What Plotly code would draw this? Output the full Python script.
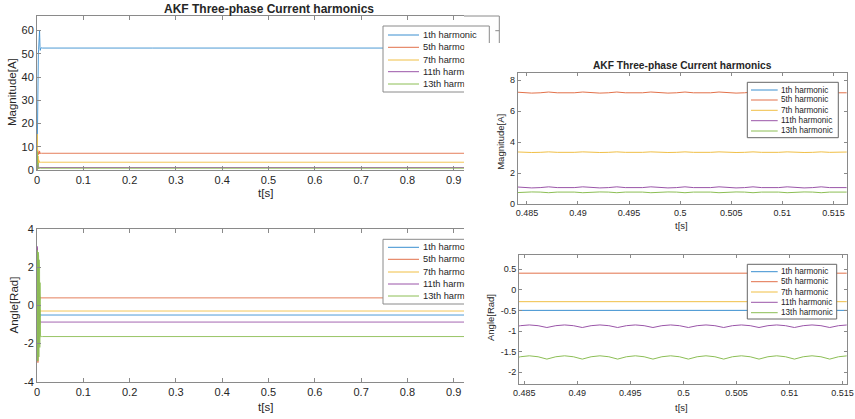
import plotly.graph_objects as go

# ---------------------------------------------------------------------------
# Harmonic tracking results (AKF estimator), values in A and rad
# ---------------------------------------------------------------------------
HARMONICS = ["1th harmonic", "5th harmonic", "7th harmonic", "11th harmonic", "13th harmonic"]
COLORS = ["#3A8FD0", "#E2714A", "#F0BF45", "#9A55A8", "#8CBE55"]
TITLE = "AKF Three-phase Current harmonics"

# Whole run, 0 .. 1 s (start-up transient followed by steady state)
t_overview = [0.0000, 0.0005, 0.0010, 0.0015, 0.0020, 0.0025, 0.0030, 0.0035,
              0.0040, 0.0045, 0.0050, 0.0055, 0.0060, 0.0065, 0.0070, 0.0075,
              0.0080, 0.0090, 0.0100, 0.0120, 0.2500, 0.5000, 0.7500, 1.0000]

mag_overview = {
    "1th harmonic": [0, 16, 30, 38, 44, 47, 50, 52, 54, 56, 58, 60, 57, 53, 51.5, 52.8,
                     52.3, 52.6, 52.5, 52.5, 52.5, 52.5, 52.5, 52.5],
    "5th harmonic": [0, 2, 5, 8.5, 6, 7.8, 6.6, 7.6, 6.9, 7.5, 7.0, 8.2, 7.4, 7.0, 7.3, 7.2,
                     7.2, 7.2, 7.2, 7.2, 7.2, 7.2, 7.2, 7.2],
    "7th harmonic": [0, 15.5, 12, 7, 4, 6, 2.5, 4.5, 3, 4, 3.2, 3.6, 3.3, 3.4, 3.35, 3.35,
                     3.35, 3.35, 3.35, 3.35, 3.35, 3.35, 3.35, 3.35],
    "11th harmonic": [0, 6, 3, 1, 2.5, 0.5, 1.8, 0.8, 1.3, 1.0, 1.1, 1.05, 1.05, 1.05, 1.05, 1.05,
                      1.05, 1.05, 1.05, 1.05, 1.05, 1.05, 1.05, 1.05],
    "13th harmonic": [0, 8, 5, 2, 3, 0.5, 1.5, 0.6, 1.0, 0.7, 0.8, 0.75, 0.77, 0.76, 0.76, 0.76,
                      0.76, 0.76, 0.76, 0.76, 0.76, 0.76, 0.76, 0.76],
}

ang_overview = {
    "1th harmonic": [0, 2.0, -1.5, 2.5, -2.0, 1.2, -1.8, 0.6, -1.0, 0.2, -0.8, -0.3, -0.6, -0.45,
                     -0.52, -0.5, -0.5, -0.5, -0.5, -0.5, -0.5, -0.5, -0.5, -0.5],
    "5th harmonic": [0, 3.0, -2.9, 2.7, -3.0, 2.2, -2.4, 1.5, -1.2, 1.0, 0.1, 0.6, 0.3, 0.45,
                     0.38, 0.4, 0.4, 0.4, 0.4, 0.4, 0.4, 0.4, 0.4, 0.4],
    "7th harmonic": [0, -2.8, 2.9, -2.5, 2.4, -2.0, 1.6, -1.4, 0.8, -0.9, 0.2, -0.5, -0.2, -0.32,
                     -0.27, -0.29, -0.29, -0.29, -0.29, -0.29, -0.29, -0.29, -0.29, -0.29],
    "11th harmonic": [0, 3.1, -2.8, 2.6, -2.7, 2.3, -2.4, 1.8, -2.0, 1.2, -1.5, -0.6, -1.0, -0.8,
                      -0.9, -0.87, -0.87, -0.87, -0.87, -0.87, -0.87, -0.87, -0.87, -0.87],
    "13th harmonic": [0, 2.9, -2.9, 2.8, -2.9, 2.8, -2.8, 2.6, -2.7, 2.4, -2.5, 2.0, -2.2, 1.2,
                      -1.8, -1.5, -1.65, -1.63, -1.63, -1.63, -1.63, -1.63, -1.63, -1.63],
}

# Steady-state detail around t = 0.5 s (300 Hz ripple on the higher harmonics)
t_detail = [0.48380, 0.48463, 0.48547, 0.48630, 0.48713, 0.48797, 0.48880, 0.48963,
            0.49047, 0.49130, 0.49213, 0.49297, 0.49380, 0.49463, 0.49547, 0.49630,
            0.49713, 0.49797, 0.49880, 0.49963, 0.50047, 0.50130, 0.50213, 0.50297,
            0.50380, 0.50463, 0.50547, 0.50630, 0.50713, 0.50797, 0.50880, 0.50963,
            0.51047, 0.51130, 0.51213, 0.51297, 0.51380, 0.51463, 0.51547, 0.51630,
            0.51713]
t_detail_span = [0.48380, 0.51713]

mag_detail = {
    "1th harmonic": [52.5, 52.5],
    "5th harmonic": [7.24, 7.19, 7.17, 7.19, 7.24, 7.19, 7.17, 7.19, 7.24, 7.19, 7.17, 7.19,
                     7.24, 7.19, 7.17, 7.19, 7.24, 7.19, 7.17, 7.19, 7.24, 7.19, 7.17, 7.19,
                     7.24, 7.19, 7.17, 7.19, 7.24, 7.19, 7.17, 7.19, 7.24, 7.19, 7.17, 7.19,
                     7.24, 7.19, 7.17, 7.19, 7.24],
    "7th harmonic": [3.37, 3.34, 3.33, 3.34, 3.37, 3.34, 3.33, 3.34, 3.37, 3.34, 3.33, 3.34,
                     3.37, 3.34, 3.33, 3.34, 3.37, 3.34, 3.33, 3.34, 3.37, 3.34, 3.33, 3.34,
                     3.37, 3.34, 3.33, 3.34, 3.37, 3.34, 3.33, 3.34, 3.37, 3.34, 3.33, 3.34,
                     3.37, 3.34, 3.33, 3.34, 3.37],
    "11th harmonic": [1.11, 1.06, 1.04, 1.06, 1.11, 1.06, 1.04, 1.06, 1.11, 1.06, 1.04, 1.06,
                      1.11, 1.06, 1.04, 1.06, 1.11, 1.06, 1.04, 1.06, 1.11, 1.06, 1.04, 1.06,
                      1.11, 1.06, 1.04, 1.06, 1.11, 1.06, 1.04, 1.06, 1.11, 1.06, 1.04, 1.06,
                      1.11, 1.06, 1.04, 1.06, 1.11],
    "13th harmonic": [0.73, 0.77, 0.78, 0.77, 0.73, 0.77, 0.78, 0.77, 0.73, 0.77, 0.78, 0.77,
                      0.73, 0.77, 0.78, 0.77, 0.73, 0.77, 0.78, 0.77, 0.73, 0.77, 0.78, 0.77,
                      0.73, 0.77, 0.78, 0.77, 0.73, 0.77, 0.78, 0.77, 0.73, 0.77, 0.78, 0.77,
                      0.73, 0.77, 0.78, 0.77, 0.73],
}

ang_detail = {
    "1th harmonic": [-0.50, -0.50],
    "5th harmonic": [0.40, 0.40],
    "7th harmonic": [-0.29, -0.29],
    "11th harmonic": [-0.915, -0.871, -0.853, -0.871, -0.915, -0.871, -0.853, -0.871, -0.915,
                      -0.871, -0.853, -0.871, -0.915, -0.871, -0.853, -0.871, -0.915, -0.871,
                      -0.853, -0.871, -0.915, -0.871, -0.853, -0.871, -0.915, -0.871, -0.853,
                      -0.871, -0.915, -0.871, -0.853, -0.871, -0.915, -0.871, -0.853, -0.871,
                      -0.915, -0.871, -0.853, -0.871, -0.915],
    "13th harmonic": [-1.68, -1.623, -1.60, -1.623, -1.68, -1.623, -1.60, -1.623, -1.68,
                      -1.623, -1.60, -1.623, -1.68, -1.623, -1.60, -1.623, -1.68, -1.623,
                      -1.60, -1.623, -1.68, -1.623, -1.60, -1.623, -1.68, -1.623, -1.60,
                      -1.623, -1.68, -1.623, -1.60, -1.623, -1.68, -1.623, -1.60, -1.623,
                      -1.68, -1.623, -1.60, -1.623, -1.68],
}

# Tick labels
left_t_ticks = [0, 0.1, 0.2, 0.3, 0.4, 0.5, 0.6, 0.7, 0.8, 0.9]
left_t_text = ["0", "0.1", "0.2", "0.3", "0.4", "0.5", "0.6", "0.7", "0.8", "0.9"]
left_mag_ticks = [0, 10, 20, 30, 40, 50, 60]
left_ang_ticks = [-4, -2, 0, 2, 4]
left_ang_text = ["-4", "-2", "0", "2", "4"]
zoom_t_ticks = [0.485, 0.49, 0.495, 0.5, 0.505, 0.51, 0.515]
zoom_t_text = ["0.485", "0.49", "0.495", "0.5", "0.505", "0.51", "0.515"]
zoom_mag_ticks = [0, 2, 4, 6, 8]
zoom_ang_ticks = [-2, -1.5, -1, -0.5, 0, 0.5]
zoom_ang_text = ["-2", "-1.5", "-1", "-0.5", "0", "0.5"]

# ---------------------------------------------------------------------------
W, H = 855, 419
FONT = "Liberation Sans"
TXT = "#262626"
AXC = "#8a8a8a"


def fx(x):
    return x / W


def fy(y):
    return 1 - y / H


fig = go.Figure()


def add_lines(t, series, xa, ya, width):
    for name, color in zip(HARMONICS, COLORS):
        ts = t if len(series[name]) == len(t) else t_detail_span
        fig.add_trace(go.Scatter(x=ts, y=series[name], mode="lines", name=name,
                                 line=dict(color=color, width=width),
                                 xaxis=xa, yaxis=ya, showlegend=False,
                                 hoverinfo="skip"))


add_lines(t_overview, mag_overview, "x", "y", 0.9)
add_lines(t_overview, ang_overview, "x2", "y2", 0.9)
add_lines(t_detail, mag_detail, "x3", "y3", 1)
add_lines(t_detail, ang_detail, "x4", "y4", 1)


def axis(domain, rng, ticks, text, anchor, size, mirror, ticklen):
    return dict(domain=domain, range=rng, anchor=anchor, tickvals=ticks, ticktext=text,
                showline=True, linecolor=AXC, linewidth=1, mirror=mirror,
                ticks="inside", ticklen=ticklen, tickwidth=1, tickcolor=AXC,
                tickfont=dict(family=FONT, size=size, color=TXT), automargin=False,
                showgrid=False, zeroline=False, fixedrange=True)


LX = [fx(37), fx(464)]
fig.update_layout(
    xaxis=axis(LX, [0, 0.9222], left_t_ticks, left_t_text, "y", 11, "allticks", 4),
    yaxis=axis([fy(170), fy(16)], [0, 66.3], left_mag_ticks, [str(v) for v in left_mag_ticks],
               "x", 11, False, 4),
    xaxis2=axis(LX, [0, 0.9222], left_t_ticks, left_t_text, "y2", 11, "allticks", 4),
    yaxis2=axis([fy(381.7), fy(229.3)], [-4, 4], left_ang_ticks, left_ang_text, "x2", 11, False, 4),
    xaxis3=axis([fx(517.7), fx(846.7)], [0.4841, 0.5163], zoom_t_ticks, zoom_t_text, "y3", 9,
                "allticks", 3),
    yaxis3=axis([fy(204), fy(73.3)], [0, 8.45], zoom_mag_ticks, [str(v) for v in zoom_mag_ticks],
                "x3", 9, "allticks", 3),
    xaxis4=axis([fx(519), fx(846.7)], [0.4845, 0.5154], zoom_t_ticks, zoom_t_text, "y4", 9,
                "allticks", 3),
    yaxis4=axis([fy(384.3), fy(255)], [-2.29, 0.84], zoom_ang_ticks, zoom_ang_text, "x4", 9,
                "allticks", 3),
)

shapes = []
annotations = []


def seg(x0, y0, x1, y1, color=AXC, width=1):
    shapes.append(dict(type="line", xref="paper", yref="paper", x0=fx(x0), y0=fy(y0),
                       x1=fx(x1), y1=fy(y1), line=dict(color=color, width=width),
                       layer="above"))


def box_fill(x0, y0, x1, y1):
    shapes.append(dict(type="rect", xref="paper", yref="paper", x0=fx(x0), y0=fy(y0),
                       x1=fx(x1), y1=fy(y1), line=dict(width=0), fillcolor="white",
                       layer="above"))


def text(x, y, s, size, angle=0, xanchor="center", width=None, bold=False):
    a = dict(xref="paper", yref="paper", x=fx(x), y=fy(y), text=f"<b>{s}</b>" if bold else s,
             showarrow=False, xanchor=xanchor, yanchor="middle", textangle=angle,
             font=dict(family=FONT, size=size, color=TXT), borderpad=0, borderwidth=0)
    if width is not None:
        a["width"] = width
        a["align"] = "left"
    annotations.append(a)


# Upper-left frame continues past the cut of the panel
seg(464, 16, 499.3, 16)
seg(499.3, 16, 499.3, 43)
seg(499.3, 30.7, 495.3, 30.7)

# Legend of the upper-left panel (partly hidden)
box_fill(383, 26, 489.3, 43)
box_fill(383, 43, 464, 92)
seg(383, 26, 489.3, 26)
seg(489.3, 26, 489.3, 43)
seg(383, 26, 383, 92)
seg(383, 92, 464, 92)
rows_ul = [35, 47.3, 60, 71.7, 84]
for i, (name, color) in enumerate(zip(HARMONICS, COLORS)):
    seg(388, rows_ul[i], 419, rows_ul[i], color, 1)
    text(422.7, rows_ul[i], name, 9.3, xanchor="left", width=None if i == 0 else 41.3)

# Legend of the lower-left panel (hidden beyond the cut)
box_fill(383, 239.3, 464, 304)
seg(383, 239.3, 464, 239.3)
seg(383, 239.3, 383, 304)
seg(383, 304, 464, 304)
rows_ll = [247.3, 259.3, 272, 284, 296]
for i, (name, color) in enumerate(zip(HARMONICS, COLORS)):
    seg(388, rows_ll[i], 419, rows_ll[i], color, 1)
    text(422.7, rows_ll[i], name, 9.3, xanchor="left", width=41.3)

# Legends of the zoomed panels
for top, bottom, right, rows in [(82.3, 137.7, 838.3, [90, 100, 110.3, 120.7, 131]),
                                 (264.3, 319, 836.7, [271.7, 281.7, 292, 302.3, 312.7])]:
    box_fill(747.3, top, right, bottom)
    seg(747.3, top, right, top, "#666666")
    seg(747.3, bottom, right, bottom, "#666666")
    seg(747.3, top, 747.3, bottom, "#666666")
    seg(right, top, right, bottom, "#666666")
    for i, (name, color) in enumerate(zip(HARMONICS, COLORS)):
        seg(751, rows[i], 777.7, rows[i], color, 1)
        text(781, rows[i], name, 8.2, xanchor="left")

# Titles and axis labels
text(268.5, 9, TITLE, 12, bold=True)
text(682.2, 66, TITLE, 10.2, bold=True)
text(265, 193, "t[s]", 11.5)
text(265, 406.7, "t[s]", 11.5)
text(681.7, 225.3, "t[s]", 9.5)
text(681.7, 407.7, "t[s]", 9.5)
text(12.5, 92.5, "Magnitude[A]", 11.5, angle=-90)
text(13.5, 305, "Angle[Rad]", 11.5, angle=-90)
text(500.8, 142, "Magnitude[A]", 9.5, angle=-90)
text(490, 318, "Angle[Rad]", 9.5, angle=-90)

fig.update_layout(shapes=shapes, annotations=annotations, width=W, height=H, autosize=False,
                  margin=dict(l=0, r=0, t=0, b=0), paper_bgcolor="white",
                  plot_bgcolor="white", showlegend=False)

fig.write_html("out.html", config={"displayModeBar": False})
